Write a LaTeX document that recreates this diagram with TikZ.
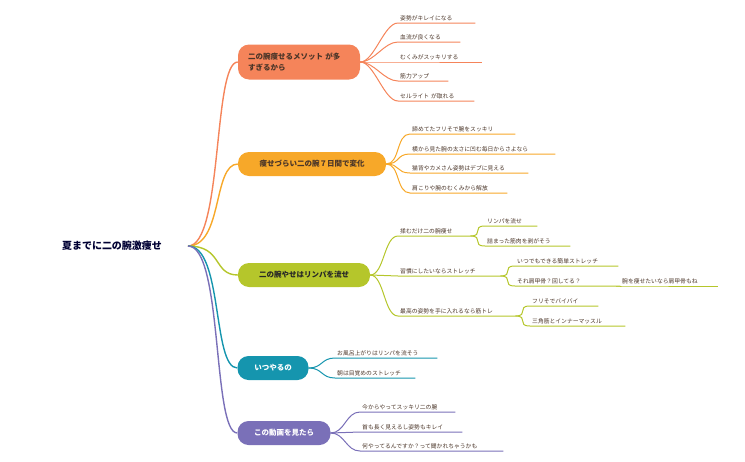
\documentclass[tikz,border=0pt]{standalone}
\usepackage{fontspec}
\setmainfont{Noto Sans CJK JP}
\definecolor{cA}{HTML}{F5845A}
\definecolor{cB}{HTML}{F7A829}
\definecolor{cC}{HTML}{B5C62B}
\definecolor{cD}{HTML}{1595AE}
\definecolor{cE}{HTML}{7A70B8}
\definecolor{txt}{HTML}{4A3528}
\newcommand{\mmleaf}[7]{%
  \node[leaf,anchor=south west,text width=#5pt-#3pt-4pt,minimum width=#5pt-#3pt] (#1) at (#3,#4) {#6};
  \draw[#7,line width=1pt] (#2) .. controls +(14,0) and +(-14,0) .. (#1.south west) -- (#1.south east);}
\begin{document}
\begin{tikzpicture}[x=1pt,y=-1pt,
  leaf/.style={inner xsep=2pt,inner ysep=2pt,align=left,font=\fontsize{5.8}{7}\selectfont,text=txt},
  mainbox/.style={rounded corners=11pt,minimum height=24pt,font=\fontsize{7.5}{11}\selectfont\bfseries,inner xsep=10pt}]
\useasboundingbox (0,0) rectangle (745,461);
\node[font=\fontsize{10}{12}\selectfont\bfseries,text=black!80!blue] (root) at (112,246) {夏までに二の腕激痩せ};
\coordinate (r) at (188,246);
% boxes
\node[mainbox,fill=cA,minimum width=122pt,minimum height=35pt,text width=102pt,align=left,text=txt] (b1) at (299,62) {二の腕痩せるメソット が多\\すぎるから};
\node[mainbox,fill=cB,minimum width=148pt,text=txt] (b2) at (312,164) {痩せづらい二の腕７日間で変化};
\node[mainbox,fill=cC,minimum width=132pt,text=black!85] (b3) at (304,275) {二の腕やせはリンパを流せ};
\node[mainbox,fill=cD,minimum width=71pt,text=white] (b4) at (273,368) {いつやるの};
\node[mainbox,fill=cE,minimum width=93pt,text=white] (b5) at (284,433) {この動画を見たら};
\foreach \b/\c in {b1/cA,b2/cB,b3/cC,b4/cD,b5/cE}
  \draw[\c,line width=1.4pt] (r) .. controls +(35,0) and +(-25,0) .. (\b.west);
% branch 1
\coordinate (p1) at (b1.east);
\mmleaf{a1}{p1}{398}{23}{475}{姿勢がキレイになる}{cA}
\mmleaf{a2}{p1}{398}{42}{460}{血流が良くなる}{cA}
\mmleaf{a3}{p1}{398}{62}{482}{むくみがスッキリする}{cA}
\mmleaf{a4}{p1}{398}{81}{448}{筋力アップ}{cA}
\mmleaf{a5}{p1}{398}{101}{474}{セルライト が取れる}{cA}
% branch 2
\coordinate (p2) at (b2.east);
\mmleaf{c1}{p2}{410}{134}{515}{諦めてたフリそで腕をスッキリ}{cB}
\mmleaf{c2}{p2}{410}{154}{555}{横から見た腕の太さに凹む毎日からさよなら}{cB}
\mmleaf{c3}{p2}{410}{173}{528}{猫背やカメさん姿勢はデブに見える}{cB}
\mmleaf{c4}{p2}{410}{193}{507}{肩こりや腕のむくみから解放}{cB}
% branch 3
\coordinate (p3) at (b3.east);
\mmleaf{d1}{p3}{398}{236}{470}{揉むだけ二の腕痩せ}{cC}
\mmleaf{d2}{p3}{398}{276}{500}{習慣にしたいならストレッチ}{cC}
\mmleaf{d3}{p3}{398}{316}{515}{最高の姿勢を手に入れるなら筋トレ}{cC}
\mmleaf{d11}{d1.south east}{485}{226}{537}{リンパを流せ}{cC}
\mmleaf{d12}{d1.south east}{485}{246}{570}{詰まった筋肉を剥がそう}{cC}
\mmleaf{d21}{d2.south east}{515}{266}{618}{いつでもできる簡単ストレッチ}{cC}
\mmleaf{d22}{d2.south east}{515}{286}{620}{それ肩甲骨？回してる？}{cC}
\mmleaf{d221}{d22.south east}{620}{286}{718}{腕を痩せたいなら肩甲骨もね}{cC}
\mmleaf{d31}{d3.south east}{530}{306}{598}{フリそでバイバイ}{cC}
\mmleaf{d32}{d3.south east}{530}{326}{625}{三角筋とインナーマッスル}{cC}
% branch 4
\coordinate (p4) at (b4.east);
\mmleaf{e1}{p4}{335}{358}{437}{お風呂上がりはリンパを流そう}{cD}
\mmleaf{e2}{p4}{335}{378}{415}{朝は目覚めのストレッチ}{cD}
% branch 5
\coordinate (p5) at (b5.east);
\mmleaf{f1}{p5}{360}{412}{455}{今からやってスッキリ二の腕}{cE}
\mmleaf{f2}{p5}{360}{432}{462}{首も長く見えるし姿勢もキレイ}{cE}
\mmleaf{f3}{p5}{360}{451}{503}{何やってるんですか？って聞かれちゃうかも}{cE}
\end{tikzpicture}
\end{document}
